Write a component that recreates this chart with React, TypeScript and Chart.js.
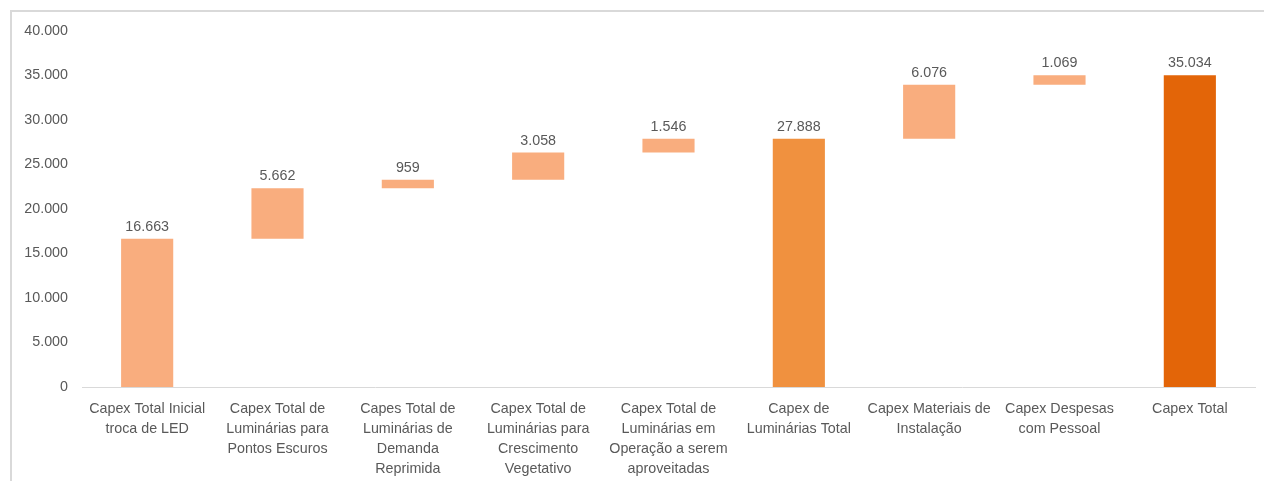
import React, { useEffect, useRef } from "react";
import { Chart, registerables } from "chart.js";

Chart.register(...registerables);

const categories: string[][] = [
  ["Capex Total Inicial", "troca de LED"],
  ["Capex Total de", "Luminárias para", "Pontos Escuros"],
  ["Capes Total de", "Luminárias de", "Demanda", "Reprimida"],
  ["Capex Total de", "Luminárias para", "Crescimento", "Vegetativo"],
  ["Capex Total de", "Luminárias em", "Operação a serem", "aproveitadas"],
  ["Capex de", "Luminárias Total"],
  ["Capex Materiais de", "Instalação"],
  ["Capex Despesas", "com Pessoal"],
  ["Capex Total"],
];

// increments (for steps) or totals (for total bars)
const values: number[] = [16663, 5662, 959, 3058, 1546, 27888, 6076, 1069, 35034];
const isTotal: boolean[] = [false, false, false, false, false, true, false, false, true];
const kind: string[] = ["step", "step", "step", "step", "step", "sub", "step", "step", "total"];

const yTicks: number[] = [0, 5000, 10000, 15000, 20000, 25000, 30000, 35000, 40000];

const COLORS: Record<string, string> = {
  step: "#F9AD7E",
  sub: "#F0913F",
  total: "#E36508",
};

const fmt = (v: number) =>
  Math.round(v)
    .toString()
    .replace(/\B(?=(\d{3})+(?!\d))/g, ".");

const FONT = "'Liberation Sans', Arial, sans-serif";
const TEXT = "#595959";
const FS = 14.3;

export default function App() {
  const ref = useRef<HTMLCanvasElement>(null);

  useEffect(() => {
    if (!ref.current) return;
    let run = 0;
    const ranges: [number, number][] = values.map((v, i) => {
      if (isTotal[i]) {
        run = v;
        return [0, v];
      }
      const r: [number, number] = [run, run + v];
      run += v;
      return r;
    });

    const labelPlugin = {
      id: "wfLabels",
      afterDatasetsDraw(chart: any) {
        const ctx = chart.ctx;
        const meta = chart.getDatasetMeta(0);
        ctx.save();
        ctx.fillStyle = TEXT;
        ctx.font = `${FS}px ${FONT}`;
        ctx.textAlign = "center";
        ctx.textBaseline = "alphabetic";
        meta.data.forEach((bar: any, i: number) => {
          const top = Math.min(bar.y, bar.base);
          ctx.fillText(fmt(values[i]), bar.x, top - 8);
        });
        ctx.restore();
      },
    };

    const chart = new Chart(ref.current, {
      type: "bar",
      data: {
        labels: categories,
        datasets: [
          {
            data: ranges as any,
            backgroundColor: kind.map((k) => COLORS[k]),
            borderWidth: 0,
            categoryPercentage: 1,
            barPercentage: 0.4,
          },
        ],
      },
      options: {
        animation: false,
        responsive: false,
        maintainAspectRatio: false,
        layout: { padding: { left: 0, right: 9, top: 19, bottom: 0 } },
        plugins: {
          legend: { display: false },
          tooltip: { enabled: false },
        },
        scales: {
          x: {
            grid: { display: false, drawTicks: false },
            border: { display: true, color: "#D9D9D9", width: 1 },
            ticks: {
              color: TEXT,
              font: { family: FONT, size: FS, lineHeight: "20px" as any },
              padding: 12,
              maxRotation: 0,
              autoSkip: false,
            },
            afterFit: (s: any) => {
              s.height = 94;
              s.paddingLeft = 0;
              s.paddingRight = 0;
            },
          },
          y: {
            min: 0,
            max: 40000,
            afterBuildTicks: (s: any) => {
              s.ticks = yTicks.map((v) => ({ value: v }));
            },
            grid: { display: false, drawTicks: false },
            border: { display: false },
            ticks: {
              color: TEXT,
              font: { family: FONT, size: FS },
              padding: 14,
              callback: (v: any) => fmt(Number(v)),
            },
            afterFit: (s: any) => {
              s.width = 70;
              s.paddingTop = 0;
              s.paddingBottom = 0;
            },
          },
        },
      },
      plugins: [labelPlugin],
    });
    return () => chart.destroy();
  }, []);

  return (
    <div
      style={{
        position: "absolute",
        left: 10,
        top: 10,
        width: 1254,
        height: 471,
        borderLeft: "2px solid #D9D9D9",
        borderTop: "2px solid #D9D9D9",
        background: "#fff",
        overflow: "hidden",
      }}
    >
      <canvas ref={ref} width={1252} height={469} style={{ display: "block" }} />
    </div>
  );
}
